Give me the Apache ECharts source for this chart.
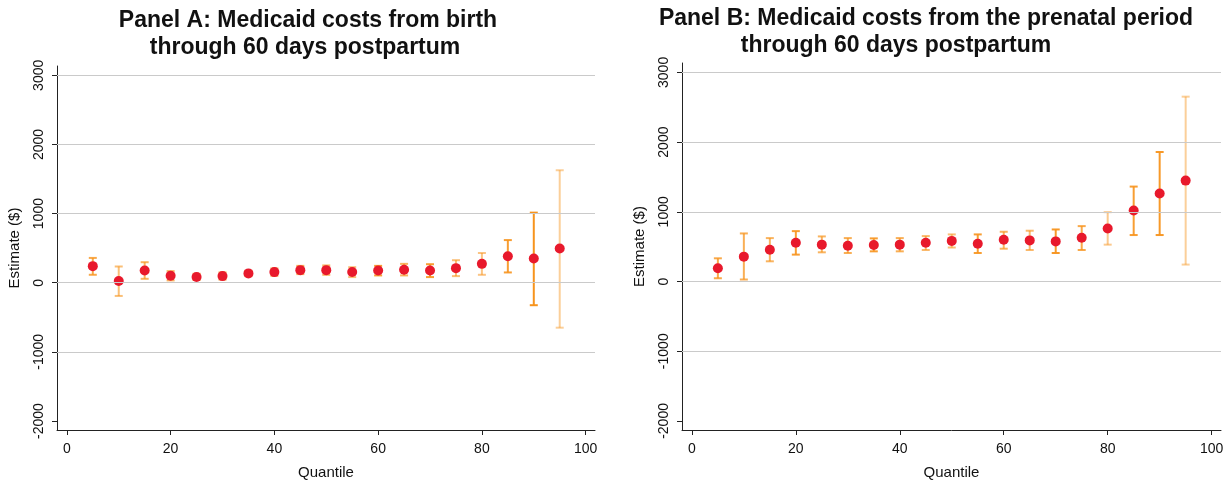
<!DOCTYPE html>
<html>
<head>
<meta charset="utf-8">
<title>Medicaid costs by quantile</title>
<script src="https://cdn.jsdelivr.net/npm/echarts@6/dist/echarts.min.js"></script>
<style>
html, body { margin: 0; padding: 0; background: #fff; }
#chart { width: 1231px; height: 485px; }
</style>
</head>
<body>
<div id="chart"></div>
<script>
// quantiles on the x axis
var quantiles = [5, 10, 15, 20, 25, 30, 35, 40, 45, 50, 55, 60, 65, 70, 75, 80, 85, 90, 95];

// Panel A: birth through 60 days postpartum
var estA  = [240, 24, 178, 100, 82, 96, 135, 154, 182, 182, 156, 178, 187, 178, 211, 273, 383, 350, 494];
var lowA  = [115, -191, 57, 34, 40, 45, 96, 100, 125, 115, 82, 106, 106, 82, 96, 115, 149, -325, -650];
var highA = [359, 235, 297, 168, 130, 150, 172, 207, 244, 250, 225, 244, 273, 268, 326, 430, 617, 1014, 1627];

// Panel B: prenatal period through 60 days postpartum
var estB  = [190, 357, 457, 557, 529, 514, 523, 529, 557, 583, 543, 600, 590, 576, 629, 762, 1019, 1262, 1448];
var lowB  = [47, 29, 290, 386, 419, 409, 433, 433, 452, 488, 409, 471, 452, 409, 452, 529, 667, 667, 243];
var highB = [333, 690, 623, 723, 647, 623, 619, 623, 652, 676, 676, 714, 729, 747, 795, 995, 1362, 1858, 2652];

// tick labels
var xTicks = [0, 20, 40, 60, 80, 100];
var yTicks = [-2000, -1000, 0, 1000, 2000, 3000];
var gridVals = [-1000, 0, 1000, 2000, 3000];

// shade of each error bar (lighter / darker orange, as in the original)
var shadeA = [0.8, 0.6, 0.7, 0.7, 0.7, 0.7, 0.7, 0.7, 0.75, 0.7, 0.6, 0.9, 0.7, 0.9, 0.6, 0.55, 0.9, 1.0, 0.45];
var shadeB = [0.8, 0.75, 0.7, 0.9, 0.7, 0.75, 0.9, 0.75, 0.65, 0.6, 0.9, 0.7, 0.65, 0.95, 0.8, 0.5, 0.9, 0.95, 0.45];

var FONT = '"Liberation Sans", Arial, sans-serif';
var ORANGE = '247,148,29';
var RED = '#e8192c';

function zip(q, a, b) {
	var out = [];
	for (var i = 0; i < q.length; i++) out.push([q[i], a[i], b[i]]);
	return out;
}
function pts(q, e) {
	var out = [];
	for (var i = 0; i < q.length; i++) out.push([q[i], e[i]]);
	return out;
}

//误差线：竖线加上下两个短横
function barRenderer(shade) {
	return function(params, api) {
		var x = api.value(0);
		var top = api.coord([x, api.value(2)]);
		var bot = api.coord([x, api.value(1)]);
		var c = 'rgba(' + ORANGE + ',' + shade[params.dataIndex] + ')';
		var h = 4;
		var st = { stroke: c, lineWidth: 2 };
		return {
			type: 'group',
			children: [
				{ type: 'line', shape: { x1: top[0], y1: top[1], x2: bot[0], y2: bot[1] }, style: st },
				{ type: 'line', shape: { x1: top[0] - h, y1: top[1], x2: top[0] + h, y2: top[1] }, style: st },
				{ type: 'line', shape: { x1: bot[0] - h, y1: bot[1], x2: bot[0] + h, y2: bot[1] }, style: st }
			]
		};
	};
}

function xAxisCfg(idx) {
	return {
		type: 'value', gridIndex: idx, min: -1.9, max: 101.8,
		name: 'Quantile', nameLocation: 'middle', nameGap: 35,
		nameTextStyle: { fontFamily: FONT, fontSize: 15, color: '#111' },
		axisLine: { show: true, onZero: false, lineStyle: { color: '#222', width: 1 } },
		axisTick: { show: true, customValues: xTicks, length: 5, lineStyle: { color: '#222' } },
		axisLabel: { customValues: xTicks, margin: 12, fontFamily: FONT, fontSize: 14, color: '#111' },
		splitLine: { show: false }
	};
}
function yAxisCfg(idx) {
	return {
		type: 'value', gridIndex: idx, min: -2130, max: 3135,
		name: 'Estimate ($)', nameLocation: 'middle', nameGap: 35, nameRotate: 90,
		nameTextStyle: { fontFamily: FONT, fontSize: 15, color: '#111' },
		axisLine: { show: true, onZero: false, lineStyle: { color: '#222', width: 1 } },
		axisTick: { show: true, customValues: yTicks, length: 5, lineStyle: { color: '#222' } },
		axisLabel: {
			customValues: yTicks, rotate: 90, margin: 11, fontFamily: FONT, fontSize: 14, color: '#111',
			formatter: function(v) { return String(v); }
		},
		splitLine: { show: false }
	};
}

function gridSeries(idx) {
	return {
		type: 'line', xAxisIndex: idx, yAxisIndex: idx, data: [], z: 0, silent: true,
		markLine: {
			silent: true, symbol: 'none', label: { show: false }, animation: false,
			lineStyle: { color: '#cacaca', type: 'solid', width: 1.2 },
			data: gridVals.map(function(v) { return { yAxis: v }; })
		}
	};
}

function titleText(str, x, y) {
	return { type: 'text', x: x, y: y, style: { text: str, font: 'bold 23px ' + FONT, fill: '#111', align: 'center' } };
}

var option = {
	animation: false,
	backgroundColor: '#fff',
	grid: [
		{ left: 57, top: 66, width: 538, height: 367 },
		{ left: 682, top: 63, width: 539, height: 368 }
	],
	xAxis: [xAxisCfg(0), xAxisCfg(1)],
	yAxis: [yAxisCfg(0), yAxisCfg(1)],
	graphic: [
		titleText('Panel A: Medicaid costs from birth', 308, 9),
		titleText('through 60 days postpartum', 305, 36),
		titleText('Panel B: Medicaid costs from the prenatal period', 926, 7),
		titleText('through 60 days postpartum', 896, 34)
	],
	series: [
		gridSeries(0),
		gridSeries(1),
		{ type: 'custom', xAxisIndex: 0, yAxisIndex: 0, z: 2, renderItem: barRenderer(shadeA), data: zip(quantiles, lowA, highA) },
		{ type: 'custom', xAxisIndex: 1, yAxisIndex: 1, z: 2, renderItem: barRenderer(shadeB), data: zip(quantiles, lowB, highB) },
		{ type: 'scatter', xAxisIndex: 0, yAxisIndex: 0, z: 3, symbolSize: 10, itemStyle: { color: RED, opacity: 1 }, data: pts(quantiles, estA) },
		{ type: 'scatter', xAxisIndex: 1, yAxisIndex: 1, z: 3, symbolSize: 10, itemStyle: { color: RED, opacity: 1 }, data: pts(quantiles, estB) }
	]
};

var myChart = echarts.init(document.getElementById('chart'));
myChart.setOption(option);
</script>
</body>
</html>
